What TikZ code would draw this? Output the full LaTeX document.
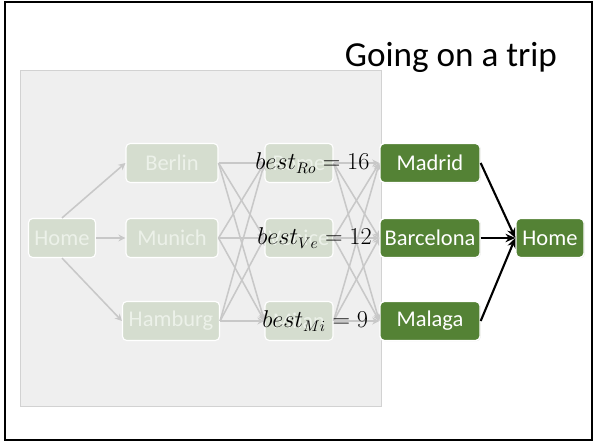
\documentclass[tikz,border=0pt]{standalone}
\usepackage{fontspec}
\setmainfont{Carlito}
\usetikzlibrary{positioning}
\usetikzlibrary{arrows.meta}
\usetikzlibrary{shadows}

\definecolor{fadefill}{RGB}{213,221,207}
\definecolor{fadetext}{RGB}{236,241,233}
\definecolor{fadeline}{RGB}{200,200,200}
\definecolor{tripgreen}{RGB}{84,130,53}
\definecolor{panelgray}{RGB}{239,239,239}

\begin{document}
\begin{tikzpicture}[
    fadenode/.style={rectangle, rounded corners=3pt, draw=white, line width=0.8pt,
        fill=fadefill, text=fadetext, minimum height=0.975cm, inner xsep=2pt,
        font=\fontsize{16}{19}\selectfont},
    citynode/.style={rectangle, rounded corners=3pt, draw=white, line width=1pt,
        fill=tripgreen, text=white, minimum height=0.975cm, inner xsep=2pt,
        font=\fontsize{16}{19}\selectfont, drop shadow={opacity=0.25, shadow xshift=0.5pt, shadow yshift=-0.5pt}},
    fadearrow/.style={draw=fadeline, line width=1.1pt, -{Stealth[length=5pt, width=5pt]}},
    tripto/.style={draw=black, line width=1.5pt, -{Stealth[length=7pt, width=6pt]}},
    bestlabel/.style={font=\fontsize{16}{19}\selectfont, inner sep=0pt}
]
    \useasboundingbox (0, 0) rectangle (14.825, 11.05);
    % Slide frame
    \draw [line width=1.4pt] (0.13, 0.04) rectangle (14.79, 11.0);
    % - [Title]
    \node at (11.275, 9.375) [anchor=base, font=\fontsize{25}{30}\selectfont] (title) {Going on a trip};

    % Faded part of the trip
    \draw [fill=panelgray, draw=gray!35, line width=0.6pt] (0.5, 0.9) rectangle (9.525, 9.3);
    % -- Start and the first row of cities
    \node at (1.55, 5.1) [fadenode, minimum width=1.675cm] (home_a) {Home};
    \node at (4.3, 6.975) [fadenode, minimum width=2.3cm] (berlin) {Berlin};
    \node at (4.3, 5.1) [fadenode, minimum width=2.3cm] (munich) {Munich};
    \node at (4.275, 3.025) [fadenode, minimum width=2.425cm] (hamburg) {Hamburg};
    % -- Second row of cities
    \node at (7.475, 6.975) [fadenode, minimum width=1.7cm] (rome) {Rome};
    \node at (7.475, 5.1) [fadenode, minimum width=1.7cm] (venice) {Venice};
    \node at (7.475, 3.025) [fadenode, minimum width=1.7cm] (milan) {Milan};
    % -- Home to the first cities
    \draw [fadearrow] (home_a.north) -- (berlin.west);
    \draw [fadearrow] (home_a.east) -- (munich.west);
    \draw [fadearrow] (home_a.south) -- (hamburg.west);
    % -- Every city to every city of the next row
    \foreach \from in {berlin, munich, hamburg}
        \foreach \to in {rome, venice, milan}
            \draw [fadearrow] (\from.east) -- (\to.west);

    % Last cities before going home
    \node at (10.75, 6.975) [citynode, minimum width=2.5cm] (madrid) {Madrid};
    \node at (10.75, 5.1) [citynode, minimum width=2.5cm] (barcelona) {Barcelona};
    \node at (10.75, 3.025) [citynode, minimum width=2.5cm] (malaga) {Malaga};
    \node at (13.75, 5.1) [citynode, minimum width=1.7cm] (home_b) {Home};
    % -- Second row to the last cities
    \foreach \from in {rome, venice, milan}
        \foreach \to in {madrid, barcelona, malaga}
            \draw [fadearrow] (\from.east) -- (\to.west);
    % -- Going home
    \draw [tripto] (madrid.east) -- (home_b.west);
    \draw [tripto] (barcelona.east) -- (home_b.west);
    \draw [tripto] (malaga.east) -- (home_b.west);

    % - [Best values]
    \node at (6.375, 6.975) [bestlabel, anchor=west] (best_ro) {$best_{Ro} = 16$};
    \node at (6.425, 5.1) [bestlabel, anchor=west] (best_ve) {$best_{Ve} = 12$};
    \node at (6.55, 3.025) [bestlabel, anchor=west] (best_mi) {$best_{Mi} = 9$};
\end{tikzpicture}
\end{document}
